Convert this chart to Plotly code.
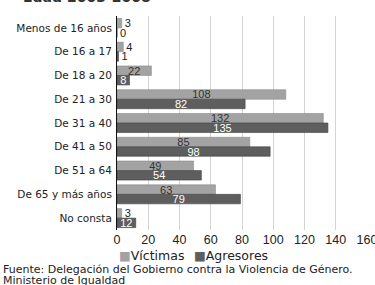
import plotly.graph_objects as go

categories = ["Menos de 16 años", "De 16 a 17", "De 18 a 20", "De 21 a 30", "De 31 a 40",
              "De 41 a 50", "De 51 a 64", "De 65 y más años", "No consta"]
victimas = [3, 4, 22, 108, 132, 85, 49, 63, 3]
agresores = [0, 1, 8, 82, 135, 98, 54, 79, 12]
x_ticks = [0, 20, 40, 60, 80, 100, 120, 140, 160]
series_names = ["Víctimas", "Agresores"]
title_text = "Edad 2003-2008"
source_lines = ["Fuente: Delegación del Gobierno contra la Violencia de Género.",
                "Ministerio de Igualdad"]

FONT = "DejaVu Sans, sans-serif"
NUMFONT = "Liberation Sans, Arial, sans-serif"
LIGHT = "#a3a3a3"
DARK = "#5e5e5e"

PLOT_TOP, PLOT_BOTTOM = 16, 230


def py(pixel):
    return (PLOT_BOTTOM - pixel) / (PLOT_BOTTOM - PLOT_TOP)


def px(pixel):
    return (pixel - 117) / 250


def positions(vals, limit):
    return ["inside" if v >= limit else "outside" for v in vals]


fig = go.Figure()
fig.add_trace(go.Bar(
    y=categories, x=victimas, name=series_names[0], orientation="h",
    marker=dict(color=LIGHT, line=dict(color="#8a8a8a", width=0.6)),
    text=[str(v) for v in victimas], textposition=positions(victimas, 8),
    insidetextanchor="middle", textangle=0,
    insidetextfont=dict(color="#333333", size=11, family=NUMFONT),
    outsidetextfont=dict(color="#222222", size=11, family=NUMFONT),
    cliponaxis=False, showlegend=False,
))
fig.add_trace(go.Bar(
    y=categories, x=agresores, name=series_names[1], orientation="h",
    marker=dict(color=DARK, line=dict(color="#444444", width=0.6)),
    text=[str(v) for v in agresores], textposition=positions(agresores, 5),
    insidetextanchor="middle", textangle=0,
    insidetextfont=dict(color="#ffffff", size=11, family=NUMFONT),
    outsidetextfont=dict(color="#222222", size=11, family=NUMFONT),
    cliponaxis=False, showlegend=False,
))

annotations = [
    dict(text="<b>" + title_text + "</b>", xref="paper", yref="paper",
         x=px(21), y=py(7), xanchor="left", yanchor="bottom", showarrow=False,
         font=dict(size=14, color="#333333")),
]
for name, color, xpix in zip(series_names, [LIGHT, DARK], [117, 192]):
    annotations.append(dict(
        text=f"<span style='color:{color}'>■</span>{name}", xref="paper", yref="paper",
        x=px(xpix), y=py(255), xanchor="left", yanchor="middle", showarrow=False,
        font=dict(size=12.5, color="#222222")))
for line, ypix in zip(source_lines, [269, 280]):
    annotations.append(dict(text=line, xref="paper", yref="paper", x=px(1), y=py(ypix),
                            xanchor="left", yanchor="middle", align="left", showarrow=False,
                            font=dict(size=11, color="#222222")))

fig.update_layout(
    width=375, height=285,
    margin=dict(l=117, r=8, t=PLOT_TOP, b=285 - PLOT_BOTTOM, autoexpand=False),
    paper_bgcolor="white", plot_bgcolor="white",
    barmode="group", bargap=0.2, bargroupgap=0,
    font=dict(family=FONT, color="#222222", size=11),
    uniformtext=dict(mode="show", minsize=11),
    showlegend=False,
    xaxis=dict(range=[0, 160], tickvals=x_ticks, showgrid=True, gridcolor="#d4d4d4",
               gridwidth=1, zeroline=False, showline=False, ticks="",
               tickfont=dict(size=12.5, color="#222222", family=NUMFONT), fixedrange=True,
               automargin=False, ticklabeloverflow="allow"),
    yaxis=dict(autorange="reversed", showline=True, linecolor="#111111", linewidth=1,
               ticks="", ticklabelstandoff=2, tickfont=dict(size=10.5, color="#222222"),
               showgrid=False, fixedrange=True, automargin=False),
    annotations=annotations,
)

fig.write_html("out.html", config={"displayModeBar": False},
               post_script="document.body.style.margin='0';document.body.style.overflow='hidden';")
